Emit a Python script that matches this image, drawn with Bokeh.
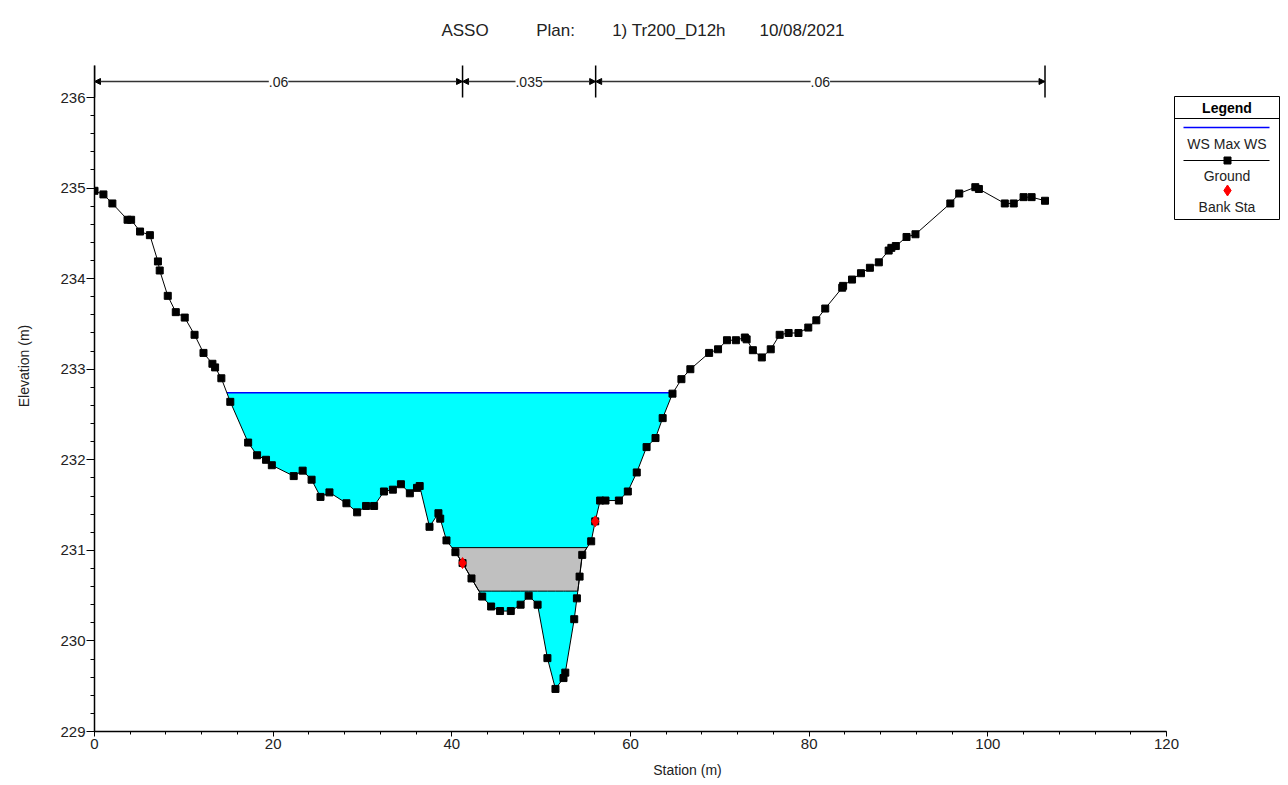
import numpy as np
from bokeh.plotting import figure
from bokeh.models import Range1d, FixedTicker, Label, Arrow, NormalHead
from bokeh.embed import file_html
from bokeh.resources import INLINE

# ---------------- data ----------------
station = [0.0, 1.0, 2.0, 3.7, 4.1, 5.1, 6.2, 7.1, 7.3, 8.2, 9.1, 10.1, 11.2, 12.2, 13.2, 13.5,
           14.2, 15.2, 17.2, 18.2, 19.2, 19.85, 22.3, 23.3, 24.3, 25.3, 26.3, 28.2, 29.4, 30.4,
           31.3, 32.4, 33.4, 34.3, 35.3, 36.1, 36.4, 37.5, 38.5, 38.7, 39.4, 40.4, 41.2, 42.2,
           43.4, 44.4, 45.4, 46.6, 47.7, 48.6, 49.6, 50.7, 51.6, 52.5, 52.7, 53.7, 54.0, 54.3,
           54.6, 55.6, 56.05, 56.6, 57.2, 58.7, 59.7, 60.7, 61.8, 62.8, 63.6, 64.7, 65.7, 66.7,
           68.8, 69.8, 70.8, 71.8, 72.8, 73.0, 73.7, 74.7, 75.7, 76.7, 77.7, 78.8, 79.9, 80.8,
           81.8, 83.7, 83.8, 84.8, 85.8, 86.8, 87.8, 88.9, 89.2, 89.7, 90.9, 91.9, 95.8, 96.8,
           98.6, 99.0, 101.9, 102.9, 104.0, 104.9, 106.4]
elevation = [234.97, 234.93, 234.83, 234.65, 234.65, 234.52, 234.48, 234.19, 234.09, 233.81,
             233.63, 233.57, 233.38, 233.18, 233.06, 233.02, 232.90, 232.64, 232.19, 232.05,
             232.00, 231.94, 231.82, 231.88, 231.78, 231.59, 231.64, 231.52, 231.42, 231.49,
             231.49, 231.65, 231.67, 231.73, 231.63, 231.69, 231.71, 231.26, 231.41, 231.35,
             231.11, 230.98, 230.86, 230.69, 230.49, 230.38, 230.33, 230.33, 230.40, 230.50,
             230.40, 229.81, 229.47, 229.59, 229.65, 230.24, 230.47, 230.71, 230.95, 231.10,
             231.32, 231.55, 231.55, 231.55, 231.65, 231.86, 232.14, 232.24, 232.46, 232.73,
             232.89, 233.00, 233.18, 233.22, 233.32, 233.32, 233.35, 233.33, 233.21, 233.13,
             233.22, 233.38, 233.40, 233.40, 233.46, 233.54, 233.67, 233.90, 233.92, 233.99,
             234.06, 234.12, 234.18, 234.31, 234.34, 234.36, 234.46, 234.49, 234.83, 234.94,
             235.01, 234.99, 234.83, 234.83, 234.90, 234.90, 234.86]
bank_station = [41.2, 56.05]
bank_elevation = [230.86, 231.32]
ws_max = 232.74
block_top = 231.03
block_bottom = 230.55
n_breaks = [0.0, 41.2, 56.1, 106.4]
n_values = [".06", ".035", ".06"]
x_ticks = [0, 20, 40, 60, 80, 100, 120]
y_ticks = [229, 230, 231, 232, 233, 234, 235, 236]
title_parts = ["ASSO", "Plan:", "1) Tr200_D12h", "10/08/2021"]
legend_labels = ["WS Max WS", "Ground", "Bank Sta"]

# ---------------- layout (picture pixels -> data) ----------------
PXX = 1072.0 / 120.0     # px per metre (x)
PXY = 634.0 / 7.0        # px per metre (y)
OFF = 0                  # offset of the figure in the picture
FRAME_LEFT = 94
FRAME_BOTTOM = 731
W, H = 1280, 781
BL = FRAME_LEFT - OFF
BB = H - (FRAME_BOTTOM - OFF)


def px2x(px):
    return (px - FRAME_LEFT) / PXX


def py2y(py):
    return 229 + (FRAME_BOTTOM - py) / PXY


FONT = "Liberation Sans"
x_end = (W + OFF - FRAME_LEFT) / PXX
y_end = 229 + (FRAME_BOTTOM - OFF) / PXY
y_axis_top = py2y(65)

p = figure(width=W, height=H, output_backend="svg", toolbar_location=None,
           x_range=Range1d(0, x_end), y_range=Range1d(229, y_end),
           min_border_left=BL, min_border_right=0, min_border_top=0, min_border_bottom=BB)
p.outline_line_color = None
p.grid.visible = False
p.background_fill_color = "white"

st = np.array(station)
el = np.array(elevation)


def crossings(level):
    out = []
    for i in range(len(st) - 1):
        a, b = el[i] - level, el[i + 1] - level
        if a * b < 0:
            out.append(st[i] + (st[i + 1] - st[i]) * a / (a - b))
    return out


# water fill
wc = crossings(ws_max)
wl, wr = wc[0], wc[-1]
mask = (st > wl) & (st < wr)
wx = [wl] + list(st[mask]) + [wr]
wy = [ws_max] + list(el[mask]) + [ws_max]
p.patch(wx, wy, fill_color="#00FFFF", line_color=None)

# grey block
bc = crossings(block_top)
bl_, br_ = bc[0], bc[-1]
inner = [s for s in station if bl_ < s < br_] + [c for c in crossings(block_bottom) if bl_ < c < br_]
lx = sorted([bl_] + inner + [br_])
ly = [max(float(np.interp(x, st, el)), block_bottom) for x in lx]
gx = lx + [br_, bl_]
gy = ly + [block_top, block_top]
p.patch(gx, gy, fill_color="#C0C0C0", line_color="black", line_width=1)

# WS line
p.line([wl, wr], [ws_max, ws_max], line_color="#0000FF", line_width=1.5)

# ground
p.line(station, elevation, line_color="black", line_width=1)
p.scatter(station, elevation, marker="square", size=7, fill_color="black", line_color="black")
p.scatter(bank_station, bank_elevation, marker="diamond", size=11, fill_color="red", line_color="red")

# Manning's n bars
yn = py2y(81)
p.segment(x0=n_breaks, y0=[py2y(97)] * len(n_breaks), x1=n_breaks, y1=[y_axis_top] * len(n_breaks),
          line_color="black", line_width=1.5)
for i, lab in enumerate(n_values):
    a, b = n_breaks[i], n_breaks[i + 1]
    p.add_layout(Arrow(start=NormalHead(size=6, fill_color="black", line_color="black"),
                       end=NormalHead(size=6, fill_color="black", line_color="black"),
                       x_start=a, x_end=b, y_start=yn, y_end=yn,
                       line_color="#333333", line_width=1.5))
    p.add_layout(Label(x=(a + b) / 2, y=yn, text=lab, text_align="center", text_baseline="middle",
                       text_font=FONT, text_font_size="14px", text_color="#222222",
                       background_fill_color="white", background_fill_alpha=1.0))

# title
title_centers = [464.5, 555, 668.5, 801.5]
for t, cx in zip(title_parts, title_centers):
    p.add_layout(Label(x=px2x(cx), y=py2y(30), text=t, text_align="center", text_baseline="middle",
                       text_font=FONT, text_font_size="17px", text_color="#222222"))

# legend (manual, HEC-RAS style)
p.quad(left=[px2x(1174)], right=[px2x(1279)], top=[py2y(96)], bottom=[py2y(219)],
       fill_color="white", line_color="black", line_width=1)
p.line([px2x(1174), px2x(1279)], [py2y(118), py2y(118)], line_color="black", line_width=1)
p.add_layout(Label(x=px2x(1226.5), y=py2y(107), text="Legend", text_align="center", text_baseline="middle",
                   text_font=FONT, text_font_size="14px", text_font_style="bold", text_color="black"))
p.line([px2x(1183), px2x(1269)], [py2y(127), py2y(127)], line_color="#0000FF", line_width=1.5)
p.line([px2x(1183), px2x(1269)], [py2y(160), py2y(160)], line_color="black", line_width=1)
p.scatter([px2x(1227)], [py2y(160)], marker="square", size=7, fill_color="black", line_color="black")
p.scatter([px2x(1227)], [py2y(190)], marker="diamond", size=11, fill_color="red", line_color="red")
for lab, ypix in zip(legend_labels, [143, 175, 206]):
    p.add_layout(Label(x=px2x(1226.5), y=py2y(ypix), text=lab, text_align="center", text_baseline="middle",
                       text_font=FONT, text_font_size="14px", text_color="#222222"))

# axes
xa = p.xaxis[0]
xa.bounds = (0, 120)
xa.ticker = FixedTicker(ticks=x_ticks, minor_ticks=list(np.arange(0, 121, 4)))
xa.axis_label = "Station (m)"
ya = p.yaxis[0]
ya.bounds = (229, y_axis_top)
ya.ticker = FixedTicker(ticks=y_ticks, minor_ticks=list(np.round(np.arange(229, 236.01, 0.2), 2)))
ya.axis_label = "Elevation (m)"
for ax in (xa, ya):
    ax.axis_line_color = "black"
    ax.axis_line_width = 1.5
    ax.major_tick_line_color = "black"
    ax.minor_tick_line_color = "black"
    ax.major_tick_in = 0
    ax.minor_tick_in = 0
    ax.major_label_text_font = FONT
    ax.major_label_text_font_size = "15px"
    ax.major_label_text_color = "#222222"
    ax.axis_label_text_font = FONT
    ax.axis_label_text_font_size = "14px"
    ax.axis_label_text_font_style = "normal"
    ax.axis_label_text_color = "#222222"
xa.major_tick_out = 5
xa.minor_tick_out = 3
xa.major_label_standoff = 2
xa.axis_label_standoff = 10
ya.major_tick_out = 8
ya.minor_tick_out = 4
ya.major_label_standoff = 1
ya.axis_label_standoff = 25

open("out.html", "w").write(file_html(p, INLINE))
